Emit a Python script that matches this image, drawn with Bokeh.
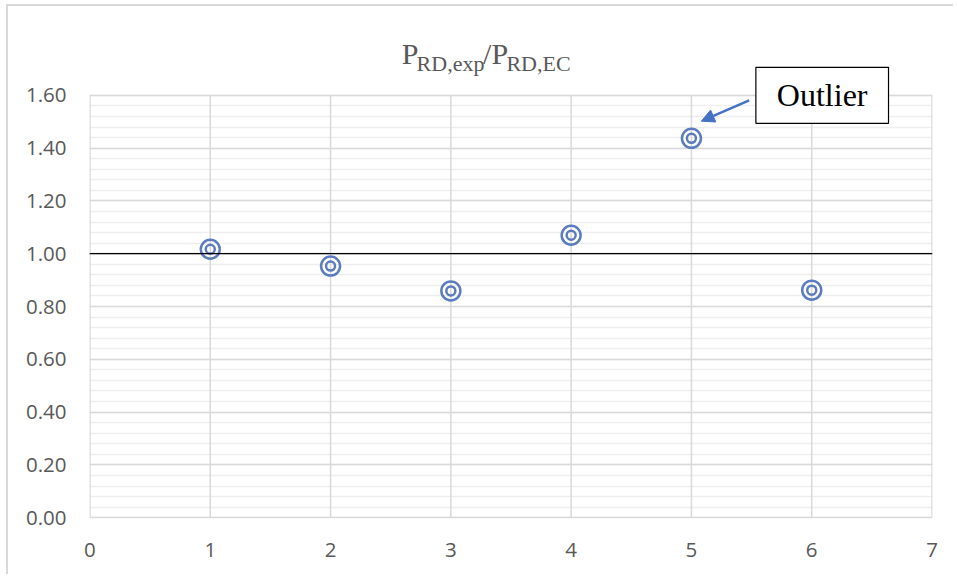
from bokeh.plotting import figure
from bokeh.models import (Range1d, FixedTicker, NumeralTickFormatter, Span, Label,
                          Arrow, NormalHead)
from bokeh.embed import file_html
from bokeh.resources import INLINE

# ---- data ----
specimen = [1, 2, 3, 4, 5, 6]
ratio = [1.017, 0.953, 0.859, 1.070, 1.437, 0.862]
x_ticks = [0, 1, 2, 3, 4, 5, 6, 7]
y_ticks = [0.0, 0.2, 0.4, 0.6, 0.8, 1.0, 1.2, 1.4, 1.6]
y_minor = [round(i * 0.04, 2) for i in range(41)]
reference_line = 1.0
outlier_index = 4
title_main = "P"
title_sub1 = "RD,exp"
title_sub2 = "RD,EC"
annotation_text = "Outlier"

GRAY_TXT = "#595959"
MARK = "#5b7cbd"
ARROW = "#4472c4"
GRID = "#d9d9d9"

p = figure(width=947, height=570, output_backend="svg", toolbar_location=None,
           x_range=Range1d(-0.004, 7.004), y_range=Range1d(-0.003, 1.891),
           min_border_left=81, min_border_right=23, min_border_top=12,
           min_border_bottom=58)
p.styles = {"border-left": "2px solid #d9d9d9", "border-top": "2px solid #d9d9d9",
            "margin-left": "6px", "margin-top": "4px"}

p.outline_line_color = None

for ax in (p.xaxis[0], p.yaxis[0]):
    ax.axis_line_color = None
    ax.major_tick_line_color = None
    ax.minor_tick_line_color = None
    ax.major_label_text_color = GRAY_TXT
    ax.major_label_text_font = "Open Sans"
    ax.major_label_text_font_size = "20.5px"

p.xaxis.ticker = FixedTicker(ticks=x_ticks)
p.yaxis.ticker = FixedTicker(ticks=y_ticks, minor_ticks=y_minor)
p.yaxis.formatter = NumeralTickFormatter(format="0.00")
p.xaxis.major_label_standoff = 18
p.yaxis.major_label_standoff = 17

p.xgrid.grid_line_color = None
p.ygrid.grid_line_color = GRID
p.ygrid.grid_line_width = 1.5
p.ygrid.minor_grid_line_color = "#eeeeee"
p.ygrid.minor_grid_line_width = 1.3

# vertical gridlines (plot area limited to the tick span)
p.segment(x0=x_ticks, y0=[y_ticks[0]] * len(x_ticks), x1=x_ticks,
          y1=[y_ticks[-1]] * len(x_ticks), line_color=GRID, line_width=1.5)

p.add_layout(Span(location=reference_line, dimension="width",
                  line_color="black", line_width=1.3))

p.scatter(specimen, ratio, size=19, fill_color=None, line_color=MARK, line_width=2.5)
p.scatter(specimen, ratio, size=9, fill_color=None, line_color=MARK, line_width=2.5)

# title with subscripts
big, small = "30px", "22px"
p.add_layout(Label(x=2.591, y=1.759, text=title_main, text_font="Liberation Serif",
                   text_font_size=big, text_color=GRAY_TXT, text_baseline="alphabetic"))
p.add_layout(Label(x=2.715, y=1.722, text=title_sub1, text_font="Liberation Serif",
                   text_font_size=small, text_color=GRAY_TXT, text_baseline="alphabetic"))
p.add_layout(Label(x=3.268, y=1.759, text="/" + title_main, text_font="Liberation Serif",
                   text_font_size=big, text_color=GRAY_TXT, text_baseline="alphabetic"))
p.add_layout(Label(x=3.462, y=1.722, text=title_sub2, text_font="Liberation Serif",
                   text_font_size=small, text_color=GRAY_TXT, text_baseline="alphabetic"))

# outlier annotation
p.add_layout(Arrow(x_start=5.480, y_start=1.581,
                   x_end=specimen[outlier_index] + 0.082, y_end=ratio[outlier_index] + 0.065,
                   line_color=ARROW, line_width=2.5,
                   end=NormalHead(size=13, fill_color=ARROW, line_color=ARROW)))
p.add_layout(Label(x=6.087, y=1.600, text=annotation_text, text_font="Liberation Serif",
                   text_font_size="32px", text_color="black", text_align="center",
                   text_baseline="middle", background_fill_color="white",
                   border_line_color="black", border_line_width=1.2,
                   padding=dict(left=21, right=21, top=10, bottom=10)))

open("out.html", "w").write(file_html(p, INLINE))
